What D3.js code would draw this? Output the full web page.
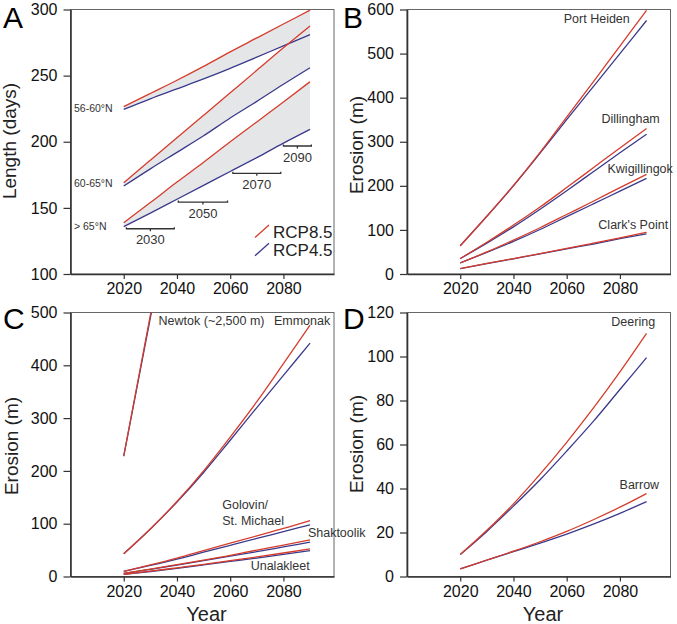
<!DOCTYPE html>
<html lang="en">
<head>
<script src="https://d3js.org/d3.v7.min.js"></script>
<style>
body { margin: 0; background: #fff; }
svg text { font-family: 'Liberation Sans', Arial, sans-serif; }
</style>
</head>
<body>
<script>
// ---- data ----
var years = [2020, 2030, 2040, 2050, 2060, 2070, 2080, 2090];
var xTickYears = [2020, 2040, 2060, 2080];

// A: ice-free season length (days) by latitude band
var latBands = ["56-60°N", "60-65°N", "> 65°N"];
var lengthRcp85 = [
  [226.5, 236.5, 246.5, 257, 268, 278.5, 289, 299.5],
  [169, 186, 203, 220, 237, 254, 271, 287.5],
  [138.8, 154, 169.5, 184.5, 200, 215, 230, 245.4]
];
var lengthRcp45 = [
  [224.5, 232.5, 240, 247.5, 255.5, 264, 272.5, 281],
  [166.5, 179.5, 192, 204.5, 218, 230.5, 243.5, 256],
  [135.8, 146, 156.5, 167, 177.5, 188, 199, 209.4]
];
var decadeLabels = ["2030", "2050", "2070", "2090"];
var decadeFrom = [2021, 2040.5, 2061, 2080];
var decadeTo = [2039, 2059, 2079, 2090.5];
var decadeDays = [134.2, 154.4, 176.1, 196.8];

// B: erosion (m)
var sitesB = ["Port Heiden", "Dillingham", "Kwigillingok", "Clark's Point"];
var erosionB85 = [
  [64, 131, 201, 276, 356, 436, 517, 598],
  [35, 72, 111, 152, 196, 241, 286, 330],
  [25, 50, 77, 105, 135, 165, 196, 226],
  [12, 24, 35, 46, 58, 70, 82, 94.5]
];
var erosionB45 = [
  [64, 131, 200, 274, 350, 425, 500, 575],
  [35, 70, 107, 147, 189, 232, 275, 317],
  [25, 49, 74, 101, 130, 159, 188, 217],
  [12, 23.5, 34.5, 45.5, 57, 68, 80, 91]
];

// C: erosion (m)
var sitesC = ["Newtok (~2,500 m)", "Emmonak", "Golovin/St. Michael", "Shaktoolik", "Unalakleet"];
var erosionC85 = [
  [228, 495, 760, 1050, 1360, 1700, 2080, 2500],
  [43, 90, 142, 200, 264, 331, 403, 476],
  [9.5, 22, 35, 49, 63, 77, 91, 106],
  [6, 14, 22.5, 31, 40, 50, 59.5, 69.5],
  [4, 10, 16.5, 23, 30, 37, 44.5, 52.5]
];
var erosionC45 = [
  [228, 490, 745, 1020, 1300, 1600, 1950, 2350],
  [43, 90, 141, 197, 258, 320, 381, 442],
  [9.5, 21, 33, 46, 59, 72, 85, 98],
  [6, 13.5, 21.5, 30, 38.5, 47, 56, 65],
  [4, 9.5, 15.5, 22, 28.5, 35, 42, 49]
];

// D: erosion (m)
var sitesD = ["Deering", "Barrow"];
var erosionD85 = [
  [10, 21, 33, 46.5, 61, 76.5, 93, 110.5],
  [3.5, 7.5, 11.5, 15.8, 20.5, 25.8, 31.5, 37.7]
];
var erosionD45 = [
  [10, 20.5, 32, 44, 57, 70.5, 85, 99.5],
  [3.5, 7.4, 11.3, 15.2, 19.3, 23.8, 28.7, 34]
];

var legendNames = ["RCP8.5", "RCP4.5"];

// ---- layout ----
var W = 677, H = 624;
var red = "#d63c2b", blue = "#3a3a8c";
var plotW = 263.5;

var svg = d3.select("body").append("svg")
  .attr("width", W).attr("height", H);

function zipYears(vals) {
  return vals.map(function(v, i) { return { year: years[i], v: v }; });
}

function makePanel(cfg) {
  var x = d3.scaleLinear().domain([2000, 2099]).range([0, plotW]);
  var y = d3.scaleLinear().domain(cfg.yDomain).range([cfg.h, 0]);
  var g = svg.append("g").attr("transform", "translate(" + cfg.left + "," + cfg.top + ")");

  // frame
  g.append("rect").attr("width", plotW).attr("height", cfg.h)
    .attr("fill", "none").attr("stroke", "#666").attr("stroke-width", 1);

  svg.append("clipPath").attr("id", "clip" + cfg.id)
    .append("rect").attr("width", plotW).attr("height", cfg.h);

  var yAxis = d3.axisLeft(y).tickValues(cfg.yTicks).tickSize(7).tickSizeOuter(0).tickPadding(6);
  var xAxis = d3.axisBottom(x).tickValues(xTickYears).tickFormat(d3.format("d"))
    .tickSize(5).tickSizeOuter(0).tickPadding(4);

  var ya = g.append("g").call(yAxis);
  var xa = g.append("g").attr("transform", "translate(0," + cfg.h + ")").call(xAxis);
  [ya, xa].forEach(function(a) {
    a.select(".domain").attr("stroke", "#333").attr("stroke-width", 1.6);
    a.selectAll(".tick line").attr("stroke", "#333").attr("stroke-width", 1.2);
    a.selectAll("text").attr("font-size", 16).attr("fill", "#111")
      .style("font-family", "'Liberation Sans', Arial, sans-serif");
  });

  // y title
  svg.append("text")
    .attr("transform", "translate(" + cfg.titleX + "," + cfg.titleY + ") rotate(-90)")
    .attr("text-anchor", "middle").attr("font-size", 19).attr("fill", "#222")
    .text(cfg.yTitle);

  if (cfg.xTitle) {
    svg.append("text").attr("x", cfg.left + 136).attr("y", 621)
      .attr("text-anchor", "middle").attr("font-size", 20).attr("fill", "#222")
      .text(cfg.xTitle);
  }

  // panel letter
  svg.append("text").attr("x", cfg.letterX).attr("y", cfg.letterY)
    .attr("font-size", 30).attr("fill", "#000").text(cfg.id);

  var plot = g.append("g").attr("clip-path", "url(#clip" + cfg.id + ")");
  var line = d3.line().x(function(d) { return x(d.year); }).y(function(d) { return y(d.v); })
    .curve(d3.curveMonotoneX);

  if (cfg.shade) {
    var area = d3.area().x(function(d) { return x(d.year); })
      .y0(function(d) { return y(d.lo); }).y1(function(d) { return y(d.hi); })
      .curve(d3.curveMonotoneX);
    cfg.s85.forEach(function(hi, k) {
      var pts = hi.map(function(v, i) { return { year: years[i], hi: v, lo: cfg.s45[k][i] }; });
      plot.append("path").datum(pts).attr("d", area).attr("fill", "#e5e6e8");
    });
  }

  cfg.s45.forEach(function(vals) {
    plot.append("path").datum(zipYears(vals)).attr("d", line)
      .attr("fill", "none").attr("stroke", blue).attr("stroke-width", 1.3);
  });
  cfg.s85.forEach(function(vals) {
    plot.append("path").datum(zipYears(vals)).attr("d", line)
      .attr("fill", "none").attr("stroke", red).attr("stroke-width", 1.3);
  });

  // series labels
  (cfg.labels || []).forEach(function(l) {
    var t = g.append("text").attr("x", x(l.x)).attr("y", y(l.y))
      .attr("text-anchor", l.anchor || "middle").attr("dy", "0.35em")
      .attr("font-size", l.size || 12.5).attr("fill", "#333");
    var parts = l.text.split("\n");
    parts.forEach(function(p, i) {
      t.append("tspan").attr("x", x(l.x)).attr("dy", i === 0 ? "0.35em" : "1.35em").text(p);
    });
  });

  return { g: g, x: x, y: y };
}

// ---- panel A ----
var A = makePanel({
  id: "A", left: 70.5, top: 9.5, h: 264.5, yDomain: [100, 300], yTicks: [100, 150, 200, 250, 300],
  yTitle: "Length (days)", titleX: 16, titleY: 141, letterX: 3, letterY: 28,
  shade: true, s85: lengthRcp85, s45: lengthRcp45,
  labels: [
    { text: latBands[0], x: 2001.3, y: 225.5, anchor: "start", size: 10.5 },
    { text: latBands[1], x: 2001.3, y: 168.8, anchor: "start", size: 10.5 },
    { text: latBands[2], x: 2001.3, y: 136.3, anchor: "start", size: 10.5 }
  ]
});

// decade brackets
decadeLabels.forEach(function(lab, i) {
  var x0 = A.x(decadeFrom[i]), x1 = A.x(decadeTo[i]), yy = A.y(decadeDays[i]);
  var xm = (x0 + x1) / 2;
  A.g.append("path")
    .attr("d", "M" + x0 + "," + (yy - 1.5) + "V" + yy + "H" + x1 + "V" + (yy - 1.5) + "M" + xm + "," + yy + "v2.5")
    .attr("fill", "none").attr("stroke", "#333").attr("stroke-width", 1.3);
  A.g.append("text").attr("x", xm).attr("y", yy + 11).attr("dy", "0.35em")
    .attr("text-anchor", "middle").attr("font-size", 13).attr("fill", "#333").text(lab);
});

// legend
[red, blue].forEach(function(c, i) {
  var by = 237.5 + i * 18.3;
  svg.append("line").attr("x1", 255).attr("y1", by).attr("x2", 269).attr("y2", by - 12.5)
    .attr("stroke", c).attr("stroke-width", 1.3);
  svg.append("text").attr("x", 273).attr("y", by + 0.5).attr("font-size", 17)
    .attr("fill", "#222").text(legendNames[i]);
});

// ---- panel B ----
makePanel({
  id: "B", left: 407, top: 9.5, h: 264.5, yDomain: [0, 600], yTicks: [0, 100, 200, 300, 400, 500, 600],
  yTitle: "Erosion (m)", titleX: 363, titleY: 145, letterX: 343, letterY: 28,
  s85: erosionB85, s45: erosionB45,
  labels: [
    { text: sitesB[0], x: 2071.3, y: 580 },
    { text: sitesB[1], x: 2084, y: 351.5 },
    { text: sitesB[2], x: 2087.6, y: 238 },
    { text: sitesB[3], x: 2085, y: 111 }
  ]
});

// ---- panel C ----
makePanel({
  id: "C", left: 70.5, top: 312.5, h: 264, yDomain: [0, 500], yTicks: [0, 100, 200, 300, 400, 500],
  yTitle: "Erosion (m)", titleX: 18, titleY: 446, letterX: 3, letterY: 329, xTitle: "Year",
  s85: erosionC85, s45: erosionC45,
  labels: [
    { text: sitesC[0], x: 2053, y: 484.5 },
    { text: sitesC[1], x: 2087, y: 485 },
    { text: "Golovin/\nSt. Michael", x: 2057, y: 137, anchor: "start" },
    { text: sitesC[3], x: 2089.2, y: 82.4, anchor: "start" },
    { text: sitesC[4], x: 2078.8, y: 20.5 }
  ]
});

// ---- panel D ----
makePanel({
  id: "D", left: 407, top: 312.5, h: 264, yDomain: [0, 120], yTicks: [0, 20, 40, 60, 80, 100, 120],
  yTitle: "Erosion (m)", titleX: 363, titleY: 444, letterX: 343, letterY: 329, xTitle: "Year",
  s85: erosionD85, s45: erosionD45,
  labels: [
    { text: sitesD[0], x: 2085, y: 116 },
    { text: sitesD[1], x: 2087.3, y: 41.7 }
  ]
});
</script>
</body>
</html>
